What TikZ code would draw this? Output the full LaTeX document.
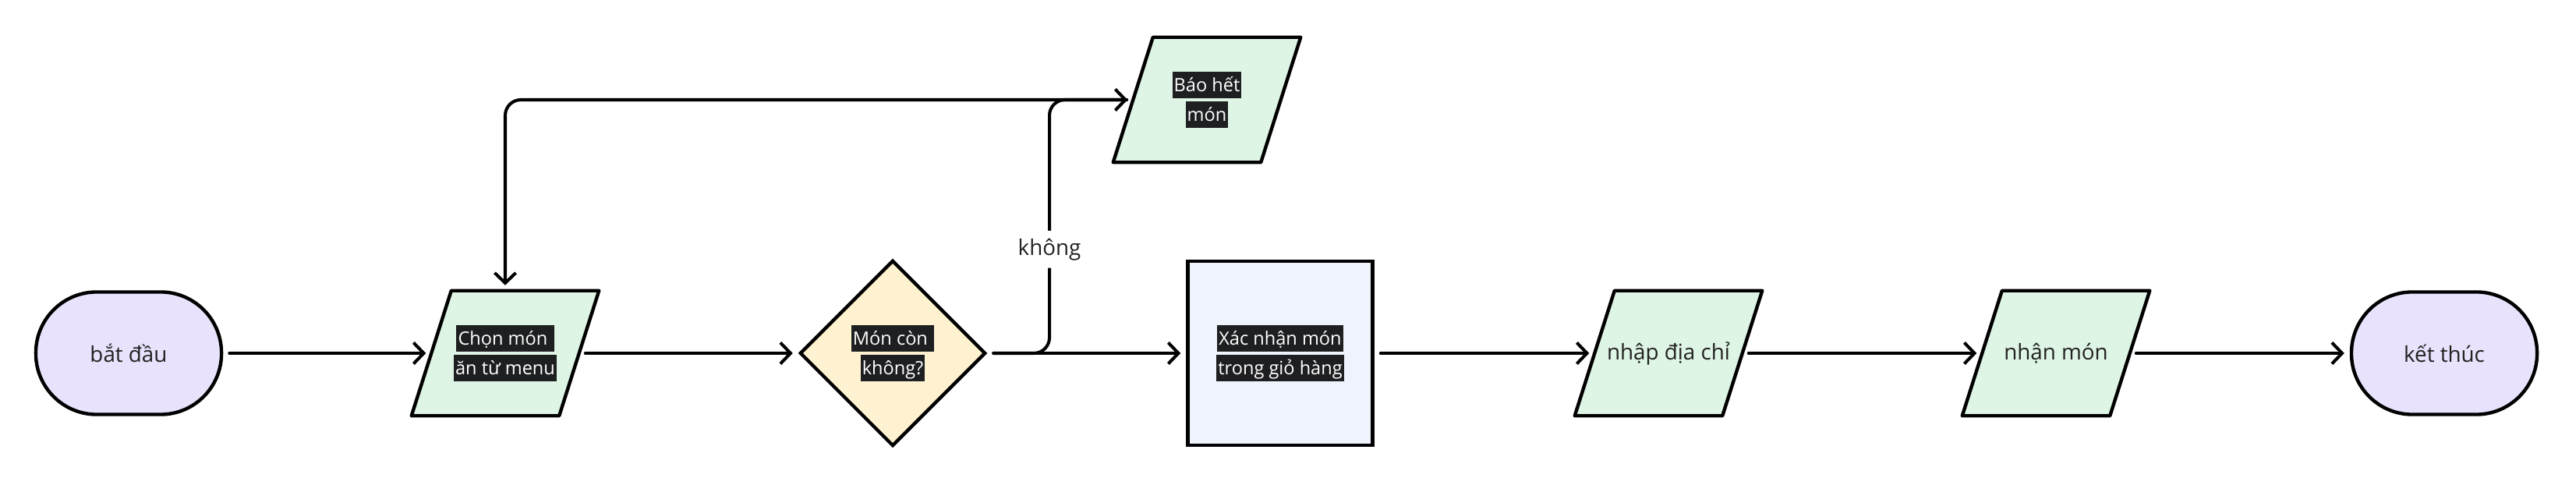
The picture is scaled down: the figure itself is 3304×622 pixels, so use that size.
\documentclass[tikz,border=0pt]{standalone}
\usepackage{fontspec}
\setmainfont{Open Sans}
\usetikzlibrary{shapes.geometric,arrows.meta,backgrounds}
\definecolor{termfill}{HTML}{E8E2FC}
\definecolor{iofill}{HTML}{DEF4E4}
\definecolor{decfill}{HTML}{FEF2D0}
\definecolor{procfill}{HTML}{EEF3FC}
\definecolor{hlbg}{HTML}{1E1F21}
\definecolor{txt}{HTML}{222222}
\newcommand\hlt[1]{{\fontsize{6.7pt}{0.34cm}\selectfont\setlength{\fboxsep}{0pt}\colorbox{hlbg}{\rule[-0.085cm]{0pt}{0.345cm}\hspace{0.6pt}\textcolor{white}{#1}\hspace{0.6pt}}}}
\newcommand\paraback[1]{%
  \begin{pgfonlayer}{background}
  \draw[paraline] ([xshift=0.255cm]#1.north west) -- ([xshift=0.255cm]#1.north east)
    -- ([xshift=-0.255cm]#1.south east) -- ([xshift=-0.255cm]#1.south west) -- cycle;
  \end{pgfonlayer}}
\tikzset{
  base/.style={draw=black, line width=1.25pt, inner sep=0pt, align=center, text=txt,
    font=\fontsize{7.9pt}{0.34cm}\selectfont},
  term/.style={base, rectangle, rounded corners=0.78cm, minimum width=2.38cm, minimum height=1.57cm, fill=termfill},
  io/.style={base, draw=none, rectangle, minimum width=1.85cm, minimum height=1.56cm},
  paraline/.style={draw=black, line width=1.25pt, line join=round, fill=iofill},
  dec/.style={base, diamond, minimum width=2.38cm, minimum height=2.38cm, fill=decfill},
  proc/.style={base, rectangle, minimum width=2.37cm, minimum height=2.36cm, fill=procfill},
  conn/.style={draw=black, line width=1.15pt, line cap=round, line join=round,
    -{Straight Barb[length=0.13cm,width=0.27cm]}, rounded corners=0.2cm,
    shorten >=0.07cm, shorten <=0.08cm},
  lbl/.style={fill=white, text=txt, inner xsep=0.04cm, inner ysep=0.1cm,
    font=\fontsize{7.9pt}{0.34cm}\selectfont}
}
\begin{document}
\begin{tikzpicture}[x=0.01cm,y=-0.01cm]
\useasboundingbox (0,0) rectangle (3304,622);
\node[term] (start) at (165,453) {bắt đầu};
\node[io] (choose) at (648,453) {\hlt{Chọn món }\\\hlt{ăn từ menu}};
\node[dec] (check) at (1145,453) {\hlt{Món còn }\\\hlt{không?}};
\node[proc] (confirm) at (1642,453) {\hlt{Xác nhận món}\\\hlt{trong giỏ hàng}};
\node[io] (addr) at (2140,453) {nhập địa chỉ};
\node[io] (recv) at (2637,453) {nhận món};
\node[term] (finish) at (3135,453) {kết thúc};
\node[io] (bao) at (1548,128) {\hlt{Báo hết}\\\hlt{món}};
\paraback{choose}
\paraback{addr}
\paraback{recv}
\paraback{bao}
\coordinate (kx) at (1346,0);

\draw[conn] (start) -- (choose);
\draw[conn] (choose) -- (check);
\draw[conn] (check) -- (confirm);
\draw[conn] (confirm) -- (addr);
\draw[conn] (addr) -- (recv);
\draw[conn] (recv) -- (finish);
\draw[conn] (bao.west) -- (bao.west -| choose.north) -- (choose.north);
\draw[conn] (check.east) -- (check.east -| kx) -- node[lbl, pos=0.41] {không} (bao.west -| kx) -- (bao.west);
\end{tikzpicture}
\end{document}
